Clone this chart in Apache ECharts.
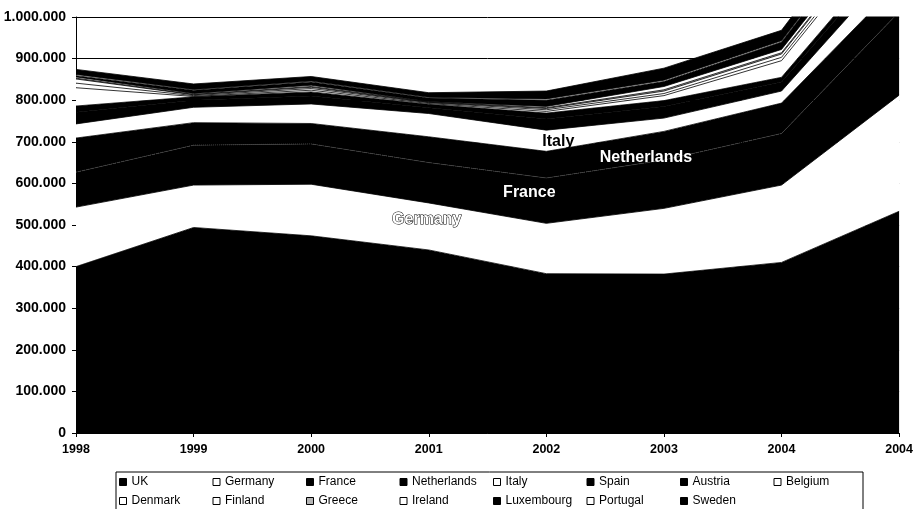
<!DOCTYPE html>
<html>
<head>
<meta charset="utf-8">
<script src="https://cdn.jsdelivr.net/npm/echarts@6/dist/echarts.min.js"></script>
<style>
html,body{margin:0;padding:0;background:#fff;}
#chart{width:916px;height:509px;}
</style>
</head>
<body>
<div id="chart"></div>
<script>
const years = ['1998','1999','2000','2001','2002','2003','2004','2004'];
const yTicks = [0,100000,200000,300000,400000,500000,600000,700000,800000,900000,1000000];

const UK          = [400000,494000,474000,440000,383000,382000,410000,533000];
const Germany     = [143000,102000,124000,113000,121000,158000,186000,279000];
const France      = [ 84000, 96000, 97000, 97000,109000,116000,124000,200000];
const Netherlands = [ 82000, 54000, 49000, 62000, 64000, 69000, 73000, 70000];
const Italy       = [ 34000, 37000, 47000, 56000, 51000, 32000, 29000, 55000];
const Spain       = [ 28000, 17000, 19000, 14000, 27000, 28000, 22000, 32000];
const Austria     = [ 15000,  8000, 10000,  8000, 14000, 14000, 11000, 16000];
const Belgium     = [ 44000,  1000,  4000,  2000,  4000, 12000, 40000, 60000];
const Denmark     = [ 11000,  2000,  4000,  2000,  4000,  5000,  8000, 10000];
const Finland     = [ 10000,  2000,  3000,  1000,  3000,  6000,  8000, 10000];
const Greece      = [  2000,  1000,  2000,  1000,  2000,  3000,  3000,  4000];
const Ireland     = [  3000,  2000,  3000,  1000,  3000,  8000,  8000, 10000];
const Luxembourg  = [  3000,  8000,  8000,  8000, 15000, 12000, 18000, 25000];
const Portugal    = [  3000,  2000,  2000,  2000,  3000,  3000,  3000,  4000];
const Sweden      = [ 12000, 13000, 11000, 11000, 19000, 29000, 25000, 35000];

const seriesDefs = [
  ['UK', UK, '#000'], ['Germany', Germany, '#fff'], ['France', France, '#000'],
  ['Netherlands', Netherlands, '#000'], ['Italy', Italy, '#fff'], ['Spain', Spain, '#000'],
  ['Austria', Austria, '#000'], ['Belgium', Belgium, '#fff'], ['Denmark', Denmark, '#fff'],
  ['Finland', Finland, '#fff'], ['Greece', Greece, '#b4b4b4'], ['Ireland', Ireland, '#fff'],
  ['Luxembourg', Luxembourg, '#000'], ['Portugal', Portugal, '#fff'], ['Sweden', Sweden, '#000']
];

const annotations = [
  {name:'Germany', coord:[3, 512000], offset:[-2,0], color:'#fff', border:'#000', bw:1},
  {name:'France', coord:[4, 577000], offset:[-17,0], color:'#fff', border:null, bw:0},
  {name:'Netherlands', coord:[5, 663000], offset:[-18,0], color:'#fff', border:null, bw:0},
  {name:'Italy', coord:[4, 700000], offset:[12,0], color:'#000', border:null, bw:0}
];

const fmt = v => String(v).replace(/\B(?=(\d{3})+(?!\d))/g, '.');
const FONT = 'Liberation Sans, Arial, sans-serif';

const series = seriesDefs.map(([name, data, color], i) => {
  const s = {
    name, type:'line', stack:'total', data,
    showSymbol:false, symbol:'none', smooth:false,
    itemStyle:{color},
    lineStyle:{color: name === 'France' ? '#444' : '#000', width: name === 'France' ? 1 : 0.8, type: name === 'France' ? 'dotted' : 'solid'},
    areaStyle:{color, opacity:1},
    emphasis:{disabled:true},
    silent:true,
    z: 2
  };
  if (i === seriesDefs.length - 1) {
    s.markPoint = {
      symbol:'rect', symbolSize:1, silent:true,
      itemStyle:{color:'rgba(0,0,0,0)'},
      z: 10,
      data: annotations.map(a => ({
        name:a.name, coord:a.coord,
        label:{
          show:true, position:'inside', formatter:a.name, offset:a.offset,
          color:a.color, fontFamily:FONT, fontWeight:'bold', fontSize:16,
          textBorderColor:a.border || 'transparent', textBorderWidth:a.bw
        }
      }))
    };
  }
  return s;
});

const chart = echarts.init(document.getElementById('chart'), null, {renderer:'canvas'});
chart.setOption({
  animation:false,
  backgroundColor:'#fff',
  textStyle:{fontFamily:FONT},
  grid:{left:76, right:15, top:17, bottom:76, containLabel:false},
  xAxis:{
    type:'category', data:years, boundaryGap:false,
    axisLine:{lineStyle:{color:'#000', width:1}},
    axisTick:{show:true, length:4, lineStyle:{color:'#000'}, interval:0},
    axisLabel:{color:'#000', fontSize:12.5, fontWeight:'bold', margin:10, interval:0, fontFamily:FONT},
    splitLine:{show:false}
  },
  yAxis:{
    type:'value', min:yTicks[0], max:yTicks[yTicks.length-1], interval:yTicks[1]-yTicks[0],
    axisLine:{show:true, lineStyle:{color:'#000', width:1}},
    axisTick:{show:true, length:4, lineStyle:{color:'#000'}},
    axisLabel:{color:'#000', fontSize:14, fontWeight:'bold', margin:10, formatter:fmt, fontFamily:FONT},
    splitLine:{show:true, lineStyle:{color:'#000', width:1}}
  },
  legend:{
    left:116, top:472, width:752,
    orient:'horizontal',
    padding:[4,3,4,3],
    itemWidth:7, itemHeight:7, itemGap:7,
    borderColor:'#000', borderWidth:1,
    icon:'rect',
    selectedMode:false,
    textStyle:{color:'#000', fontSize:12, width:74, lineHeight:12, fontFamily:FONT},
    data: seriesDefs.map(([name,,color]) => ({
      name, icon:'rect',
      itemStyle:{color, borderColor:'#000', borderWidth:1}
    }))
  },
  series
});
</script>
</body>
</html>
